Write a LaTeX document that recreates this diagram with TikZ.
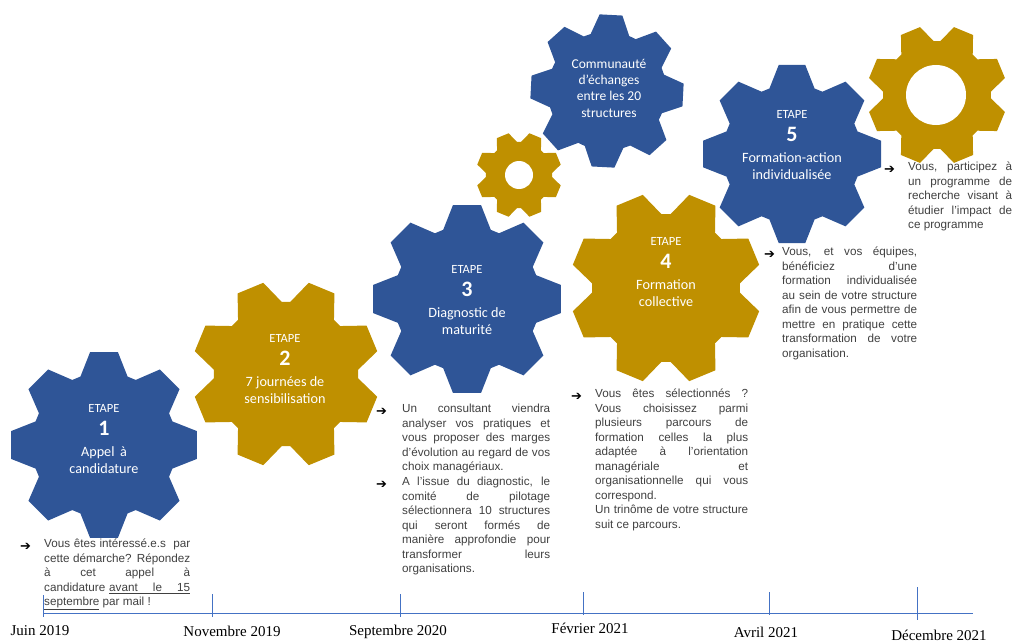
\documentclass[tikz,border=0pt]{standalone}
\usepackage{fontspec}
\setmainfont{Liberation Sans}
\newfontfamily\gearfont{Carlito}
\newfontfamily\datefont{Liberation Serif}
\newfontfamily\arrowfont{DejaVu Sans}
\usetikzlibrary{positioning}

\definecolor{gearblue}{HTML}{2F5597}
\definecolor{geargold}{HTML}{BF9000}
\definecolor{lineblue}{HTML}{4472C4}
\definecolor{textgray}{HTML}{404040}

% gear: centre, outer radius, rotation, colour
\newcommand{\drawgear}[4]{%
  \fill[#4, shift={(#1)}] ({#3-19}:{0.77*#2})
    \foreach \k in {0,...,7}{
      -- ({#3+45*\k-19}:{0.77*#2}) -- ({#3+45*\k-8.5}:#2)
      -- ({#3+45*\k+8.5}:#2) -- ({#3+45*\k+19}:{0.77*#2})}
    -- cycle;}

\tikzset{
  gearlabel/.style={font=\gearfont\fontsize{14.2}{17}\selectfont, text=white, align=center, inner sep=0pt},
  note/.style={font=\fontsize{11.7}{14.5}\selectfont, text=textgray, align=justify, inner sep=0pt, anchor=north west},
  bullet/.style={font=\arrowfont\fontsize{13}{13}\selectfont, text=black, inner sep=0pt, anchor=west},
  datelabel/.style={font=\datefont\fontsize{15}{15}\selectfont, text=black, inner sep=0pt},
  timetick/.style={lineblue, line width=0.8pt}
}
\newcommand{\stepnum}[1]{{\bfseries\fontsize{22}{22}\selectfont #1}}
\newcommand{\stepword}{{\fontsize{12.5}{14}\selectfont ETAPE}}

\begin{document}
\begin{tikzpicture}[x=1pt,y=-1pt]
  \useasboundingbox (0,0) rectangle (1012,642);

  % gears
  \drawgear{104,445}{94}{0}{gearblue}
  \drawgear{286,374}{94}{22.5}{geargold}
  \drawgear{467,299}{95}{0}{gearblue}
  \drawgear{519,175}{43}{22.5}{geargold}
  \fill[white] (519,175) circle (14);
  \drawgear{607,91}{77}{3}{gearblue}
  \drawgear{666,288}{96}{22.5}{geargold}
  \drawgear{792,154}{90}{0}{gearblue}
  \drawgear{937,95}{70}{22.5}{geargold}
  \fill[white] (936,95) circle (30);

  % gear texts
  \node[gearlabel] (step1) at (104,439) {\stepword\\[6pt]\stepnum{1}\\[4pt]Appel\, à\\candidature};
  \node[gearlabel] (step2) at (285,369) {\stepword\\[6pt]\stepnum{2}\\[4pt]7 journées de\\sensibilisation};
  \node[gearlabel] (step3) at (467,300) {\stepword\\[6pt]\stepnum{3}\\[4pt]Diagnostic de\\maturité};
  \node[gearlabel] (step4) at (666,272) {\stepword\\[6pt]\stepnum{4}\\[4pt]Formation\\collective};
  \node[gearlabel] (step5) at (792,145) {\stepword\\[6pt]\stepnum{5}\\[4pt]Formation-action\\individualisée};
  \node[gearlabel, font=\gearfont\fontsize{13.5}{16.3}\selectfont] (exchange) at (609,88) {Communauté\\d’échanges\\entre les 20\\structures};

  % notes
  \node[bullet] (b1) at (20,547) {➔};
  \node[note, text width=146pt] (n1) at (44,539) {Vous êtes intéressé.e.s\ \ par\linebreak cette démarche? Répondez\linebreak à cet appel à\linebreak \hbox to \linewidth{candidature\hfill\underline{\hbox to 81pt{avant\hfill le\hfill 15}}}\linebreak \underline{septembre} par mail !};

  \node[bullet] (b3a) at (376,412) {➔};
  \node[note, text width=148pt] (n3a) at (402,404) {Un consultant viendra\linebreak analyser vos pratiques et\linebreak vous proposer des marges\linebreak d’évolution au regard de vos\linebreak choix managériaux.};
  \node[bullet] (b3b) at (376,485) {➔};
  \node[note, text width=148pt] (n3b) at (402,477) {A l’issue du diagnostic, le\linebreak comité de pilotage\linebreak sélectionnera 10 structures\linebreak qui seront formés de\linebreak manière approfondie pour\linebreak transformer leurs\linebreak organisations.};

  \node[bullet] (b4) at (571,397) {➔};
  \node[note, text width=153pt] (n4) at (595,389) {Vous êtes sélectionnés~?\linebreak Vous choisissez parmi\linebreak plusieurs parcours de\linebreak formation celles la plus\linebreak adaptée à l’orientation\linebreak managériale et\linebreak organisationnelle qui vous\linebreak correspond.\newline Un trinôme de votre structure\linebreak suit ce parcours.};

  \node[bullet] (b5) at (764,255) {➔};
  \node[note, text width=135pt] (n5) at (782,247) {Vous, et vos équipes,\linebreak bénéficiez d’une\linebreak formation individualisée\linebreak au sein de votre structure\linebreak afin de vous permettre de\linebreak mettre en pratique cette\linebreak transformation de votre\linebreak organisation.};

  \node[bullet] (b6) at (884,170) {➔};
  \node[note, text width=104pt] (n6) at (908,162) {Vous, participez à\linebreak un programme de\linebreak recherche visant à\linebreak étudier l’impact de\linebreak ce programme};

  % timeline
  \coordinate (tstart) at (43,613);
  \coordinate (tend) at (973,613);
  \draw[timetick] (tstart) -- (tend);
  \draw[timetick] (43,595) -- (43,617);
  \draw[timetick] (212,594) -- (212,617);
  \draw[timetick] (400,594) -- (400,617);
  \draw[timetick] (583,592) -- (583,615);
  \draw[timetick] (769,592) -- (769,615);
  \draw[timetick] (917,587) -- (917,620);

  \node[datelabel] (d1) at (40,631) {Juin 2019};
  \node[datelabel] (d2) at (232,631) {Novembre 2019};
  \node[datelabel] (d3) at (398,632) {Septembre 2020};
  \node[datelabel] (d4) at (590,628) {Février 2021};
  \node[datelabel] (d5) at (766,632) {Avril 2021};
  \node[datelabel] (d6) at (939,635) {Décembre 2021};
\end{tikzpicture}
\end{document}
